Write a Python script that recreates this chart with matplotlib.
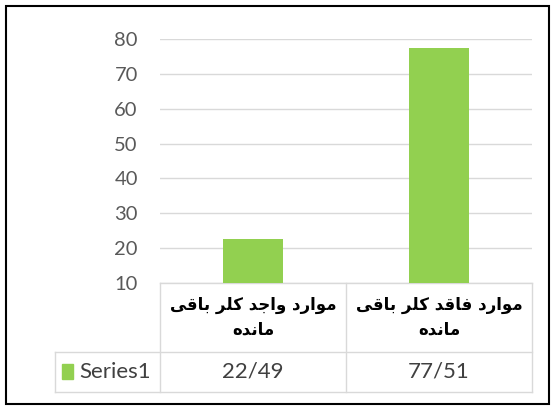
import numpy as np
import matplotlib.pyplot as plt
from matplotlib.patches import Rectangle
from matplotlib.lines import Line2D

# --- data ---
categories = ['موارد واجد کلر باقی\nمانده', 'موارد فاقد کلر باقی\nمانده']
values = [22.49, 77.51]
series_name = 'Series1'
yticks = [10, 20, 30, 40, 50, 60, 70, 80]

bar_color = '#92D050'
grid_color = '#D9D9D9'
text_gray = '#595959'

# isolated, final, initial, medial
FORMS = {
    'ا': ('\uFE8D', '\uFE8E', None, None),
    'ب': ('\uFE8F', '\uFE90', '\uFE91', '\uFE92'),
    'ج': ('\uFE9D', '\uFE9E', '\uFE9F', '\uFEA0'),
    'د': ('\uFEA9', '\uFEAA', None, None),
    'ر': ('\uFEAD', '\uFEAE', None, None),
    'ف': ('\uFED1', '\uFED2', '\uFED3', '\uFED4'),
    'ق': ('\uFED5', '\uFED6', '\uFED7', '\uFED8'),
    'ل': ('\uFEDD', '\uFEDE', '\uFEDF', '\uFEE0'),
    'م': ('\uFEE1', '\uFEE2', '\uFEE3', '\uFEE4'),
    'ن': ('\uFEE5', '\uFEE6', '\uFEE7', '\uFEE8'),
    'ه': ('\uFEE9', '\uFEEA', '\uFEEB', '\uFEEC'),
    'و': ('\uFEED', '\uFEEE', None, None),
    'ک': ('\uFB8E', '\uFB8F', '\uFB90', '\uFB91'),
    'ی': ('\uFBFC', '\uFBFD', '\uFBFE', '\uFBFF'),
}


def shape(text):
    # simple arabic shaping + right-to-left ordering for matplotlib
    lines = []
    for line in text.split('\n'):
        words = []
        for w in line.split(' '):
            res = []
            for i, c in enumerate(w):
                iso, fin, ini, med = FORMS[c]
                prev_joins = i > 0 and FORMS[w[i - 1]][2] is not None
                has_next = i < len(w) - 1
                if prev_joins and has_next and med:
                    res.append(med)
                elif prev_joins:
                    res.append(fin)
                elif has_next and ini:
                    res.append(ini)
                else:
                    res.append(iso)
            words.append(''.join(reversed(res)))
        lines.append(' '.join(reversed(words)))
    return '\n'.join(lines)


plt.rcParams['font.family'] = ['Lato', 'DejaVu Sans']

fig = plt.figure(figsize=(5.57, 4.08), dpi=100)
ax = fig.add_axes([160 / 557, 1 - 283 / 408, 372 / 557, 244 / 408])

x = np.arange(len(values))
ax.bar(x, values, width=0.32, color=bar_color, zorder=3, bottom=0)
ax.set_xlim(-0.5, len(values) - 0.5)
ax.set_ylim(yticks[0], yticks[-1])
ax.set_yticks(yticks)
ax.set_xticks([])
ax.grid(axis='y', color=grid_color, linewidth=1, zorder=0)
for s in ax.spines.values():
    s.set_visible(False)
ax.tick_params(axis='y', length=0, pad=16, labelsize=14.5, labelcolor=text_gray)

# --- data table below the plot ---
col_w = 1.0 / len(values)
row1 = -69 / 244
row2 = -109 / 244
left = -105 / 372
tkw = dict(transform=ax.transAxes, color=grid_color, linewidth=1, clip_on=False)
ax.add_line(Line2D([0, 1], [0, 0], **tkw))
ax.add_line(Line2D([left, 1], [row1, row1], **tkw))
ax.add_line(Line2D([left, 1], [row2, row2], **tkw))
ax.add_line(Line2D([left, left], [row1, row2], **tkw))
for i in range(len(values) + 1):
    ax.add_line(Line2D([i * col_w, i * col_w], [0, row2], **tkw))

for i, (cat, v) in enumerate(zip(categories, values)):
    xc = (i + 0.5) * col_w
    ax.text(xc, row1 / 2, shape(cat), transform=ax.transAxes, ha='center',
            va='center', fontsize=12, family='DejaVu Sans', color='black',
            fontweight='bold', linespacing=1.5)
    ax.text(xc, (row1 + row2) / 2, f'{v:.2f}'.replace('.', '/'),
            transform=ax.transAxes, ha='center', va='center', fontsize=16,
            color='#404040')

ax.add_patch(Rectangle((left + 7 / 372, (row1 + row2) / 2 - 7 / 244), 11 / 372, 15 / 244,
                       transform=ax.transAxes, color=bar_color, clip_on=False))
ax.text(left + 24 / 372, (row1 + row2) / 2, series_name, transform=ax.transAxes,
        ha='left', va='center', fontsize=16, color='#404040')

# outer frame
fig.patches.append(Rectangle((6 / 557, 4 / 408), 543 / 557, 398 / 408,
                             transform=fig.transFigure, fill=False,
                             edgecolor='black', linewidth=1.5))

fig.savefig('out.png', dpi=100)
